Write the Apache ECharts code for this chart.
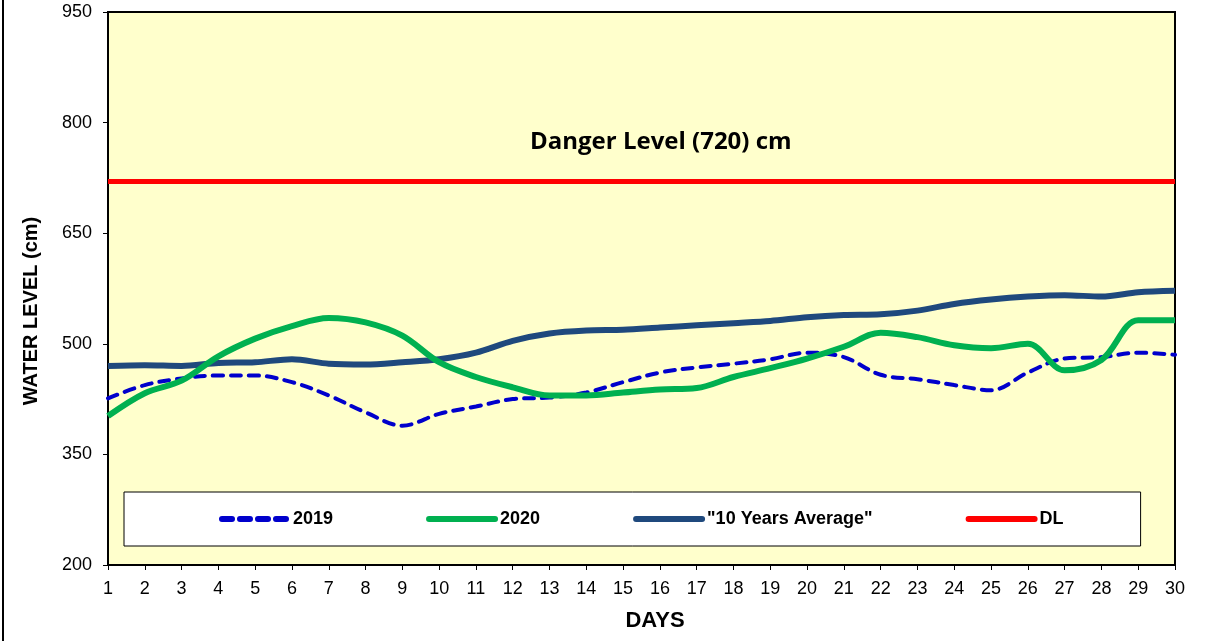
<!DOCTYPE html>
<html>
<head>
<meta charset="utf-8">
<script src="https://cdn.jsdelivr.net/npm/echarts@6/dist/echarts.min.js"></script>
<style>
  html, body { margin: 0; padding: 0; background: #fff; }
  #chart { width: 1217px; height: 641px; }
</style>
</head>
<body>
<div id="chart"></div>
<script>
// days 1..30
const days = ['1','2','3','4','5','6','7','8','9','10','11','12','13','14','15',
  '16','17','18','19','20','21','22','23','24','25','26','27','28','29','30']

// water level (cm)
const level2019 = [426, 444, 453, 457, 457, 448, 430, 407, 389, 405, 415, 425, 427, 434, 448,
  461, 468, 473, 479, 488, 482, 458, 452, 444, 437, 461, 480, 482, 488, 485]
const level2020 = [402, 433, 450, 483, 507, 524, 535, 529, 511, 475, 455, 441, 430, 430, 434,
  438, 440, 455, 467, 480, 496, 515, 509, 498, 494, 500, 464, 478, 532, 532]
const avg10 = [470, 471, 470, 474, 475, 479, 473, 472, 475, 479, 488, 504, 514, 518, 519,
  522, 525, 528, 531, 536, 539, 540, 545, 554, 560, 564, 566, 564, 570, 572]
const dangerLevel = 720
const yTicks = { min: 200, max: 950, step: 150 }

const chart = echarts.init(document.getElementById('chart'))

const font = '"Liberation Sans", Arial, sans-serif'

let option = {
  backgroundColor: '#fff',
  animation: false,
  textStyle: { fontFamily: font, color: '#000' },
  grid: {
    left: 108,
    right: 42,
    top: 12,
    bottom: 76,
    show: true,
    backgroundColor: '#FFFFCC',
    borderColor: '#000',
    borderWidth: 2
  },
  legend: {
    left: 124,
    top: 492,
    padding: [18, 77, 18, 95],
    backgroundColor: '#fff',
    borderColor: '#000',
    borderWidth: 1,
    itemWidth: 66,
    itemHeight: 18,
    itemGap: 93,
    itemStyle: { opacity: 0 },
    lineStyle: { width: 6, cap: 'round' },
    textStyle: { fontFamily: font, fontSize: 18, fontWeight: 'bold', color: '#000' },
    data: ['2019', '2020', '"10 Years Average"', 'DL']
  },
  xAxis: {
    type: 'category',
    data: days,
    boundaryGap: false,
    axisLine: { lineStyle: { color: '#000', width: 2 } },
    axisTick: { length: 5, lineStyle: { color: '#000' } },
    axisLabel: { fontSize: 18, color: '#000', margin: 15, interval: 0 },
    splitLine: { show: false }
  },
  yAxis: {
    type: 'value',
    min: yTicks.min,
    max: yTicks.max,
    interval: yTicks.step,
    axisLine: { show: true, lineStyle: { color: '#000', width: 2 } },
    axisTick: { show: true, length: 5, lineStyle: { color: '#000' } },
    axisLabel: { fontSize: 18, color: '#000', margin: 16 },
    splitLine: { show: false }
  },
  series: [
    {
      name: '2019',
      type: 'line',
      data: level2019,
      smooth: 0.35,
      symbol: 'none',
      z: 3,
      lineStyle: { color: '#0000CC', width: 4, type: [10, 8], cap: 'round' },
      itemStyle: { color: '#0000CC' }
    },
    {
      name: '2020',
      type: 'line',
      data: level2020,
      smooth: 0.35,
      symbol: 'none',
      z: 4,
      lineStyle: { color: '#00B050', width: 6 },
      itemStyle: { color: '#00B050' }
    },
    {
      name: '"10 Years Average"',
      type: 'line',
      data: avg10,
      smooth: 0.3,
      symbol: 'none',
      z: 2,
      lineStyle: { color: '#1F497D', width: 6 },
      itemStyle: { color: '#1F497D' }
    },
    {
      name: 'DL',
      type: 'line',
      data: days.map(() => dangerLevel),
      symbol: 'none',
      z: 2,
      lineStyle: { color: '#FF0000', width: 5 },
      itemStyle: { color: '#FF0000' }
    }
  ],
  graphic: [
    {
      type: 'text',
      left: 530,
      top: 130,
      z: 10,
      style: {
        text: 'Danger Level (720) cm',
        font: 'bold 24px "Open Sans", "Noto Sans", sans-serif',
        fill: '#000'
      }
    },
    {
      // y axis title
      type: 'text',
      x: 31,
      y: 311,
      rotation: Math.PI / 2,
      style: {
        text: 'WATER LEVEL (cm)',
        font: 'bold 20px "Liberation Sans", Arial, sans-serif',
        fill: '#000',
        align: 'center',
        verticalAlign: 'middle'
      }
    },
    {
      // x axis title
      type: 'text',
      x: 655,
      y: 621,
      style: {
        text: 'DAYS',
        font: 'bold 22px "Liberation Sans", Arial, sans-serif',
        fill: '#000',
        align: 'center',
        verticalAlign: 'middle'
      }
    },
    {
      type: 'line',
      shape: { x1: 3, y1: 0, x2: 3, y2: 641 },
      style: { stroke: '#000', lineWidth: 2 }
    }
  ]
}

chart.setOption(option)
</script>
</body>
</html>
